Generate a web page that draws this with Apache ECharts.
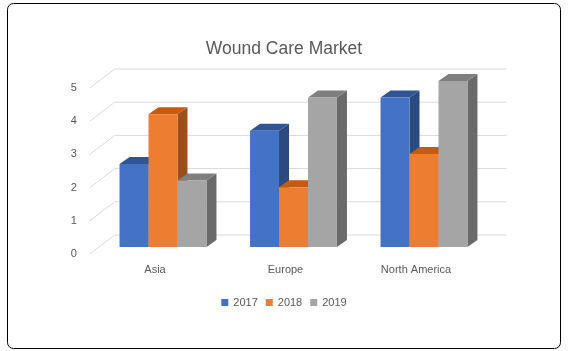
<!DOCTYPE html>
<html>
<head>
<meta charset="utf-8">
<script src="https://cdn.jsdelivr.net/npm/echarts@6/dist/echarts.min.js"></script>
<style>
  html, body { margin: 0; padding: 0; background: #fff; }
  #chart { width: 568px; height: 351px; }
</style>
</head>
<body>
<div id="chart"></div>
<script>
// data
const regions = ['Asia', 'Europe', 'North America']
const years = ['2017', '2018', '2019']
const values2017 = [2.5, 3.5, 4.5]
const values2018 = [4, 1.8, 2.8]
const values2019 = [2, 4.5, 5]
const yTicks = [0, 1, 2, 3, 4, 5]

const seriesValues = [values2017, values2018, values2019]
const frontColors = ['#4472C4', '#ED7D31', '#A5A5A5']
const topColors = ['#2F5597', '#C55A11', '#7F7F7F']
const sideColors = ['#2B4A80', '#9E4E1B', '#6A6A6A']

// oblique depth of the walls and of the bars
const wallDX = 25, wallDY = -19
const barShiftX = 8, barShiftY = -7
const barDX = 10, barDY = -7

let chart = echarts.init(document.getElementById('chart'))

function gridLines(params, api) {
  let cs = params.coordSys
  let y = api.coord([0, api.value(1)])[1]
  let x = cs.x
  return {
    type: 'polyline',
    shape: {
      points: [[x, y], [x + wallDX, y + wallDY], [x + cs.width + wallDX, y + wallDY]]
    },
    style: { stroke: '#D9D9D9', lineWidth: 1, fill: null },
    silent: true
  }
}

function makeBars(idx) {
  return function (params, api) {
    let cat = api.value(0)
    let base = api.coord([cat, 0])
    let top = api.coord([cat, api.value(1)])
    let band = api.size([1, 0])[0]
    let w = band * 0.222
    let x0 = base[0] - 1.5 * w + idx * w + barShiftX
    let yb = base[1] + barShiftY
    let yt = top[1] + barShiftY
    return {
      type: 'group',
      children: [
        {
          type: 'polygon',
          shape: { points: [[x0 + w, yt], [x0 + w + barDX, yt + barDY], [x0 + w + barDX, yb + barDY], [x0 + w, yb]] },
          style: { fill: sideColors[idx] }
        },
        {
          type: 'polygon',
          shape: { points: [[x0, yt], [x0 + barDX, yt + barDY], [x0 + w + barDX, yt + barDY], [x0 + w, yt]] },
          style: { fill: topColors[idx] }
        },
        {
          type: 'rect',
          shape: { x: x0, y: yt, width: w, height: yb - yt },
          style: { fill: frontColors[idx] }
        }
      ]
    }
  }
}

let series = [
  {
    type: 'custom',
    name: 'grid',
    renderItem: gridLines,
    data: yTicks.map(v => [0, v]),
    z: 1,
    silent: true
  }
]
years.forEach(function (y, i) {
  series.push({
    type: 'custom',
    name: y,
    renderItem: makeBars(i),
    itemStyle: { color: frontColors[i] },
    data: seriesValues[i].map((v, j) => [j, v]),
    z: 2 + i
  })
})

chart.setOption({
  animation: false,
  textStyle: { fontFamily: 'Liberation Sans' },
  title: {
    text: 'Wound Care Market',
    left: 'center',
    top: 35,
    textStyle: { fontSize: 17.5, fontWeight: 'normal', color: '#595959' }
  },
  graphic: [
    {
      type: 'rect',
      shape: { x: 7.5, y: 3.5, width: 553, height: 345, r: 6 },
      style: { fill: null, stroke: '#000', lineWidth: 1 },
      silent: true
    }
  ],
  legend: {
    data: years,
    left: 'center',
    top: 292,
    icon: 'rect',
    itemWidth: 7,
    itemHeight: 7,
    itemGap: 8,
    textStyle: { fontSize: 11, color: '#595959' }
  },
  grid: { left: 89.75, right: 86.75, top: 88, bottom: 97 },
  xAxis: {
    type: 'category',
    data: regions,
    axisLine: { show: false },
    axisTick: { show: false },
    axisLabel: { color: '#595959', fontSize: 11, margin: 10 }
  },
  yAxis: {
    type: 'value',
    min: 0,
    max: 5,
    interval: 1,
    axisLine: { show: false },
    axisTick: { show: false },
    splitLine: { show: false },
    axisLabel: { color: '#595959', fontSize: 11, margin: 13 }
  },
  series: series
})
window.onresize = chart.resize
</script>
</body>
</html>
